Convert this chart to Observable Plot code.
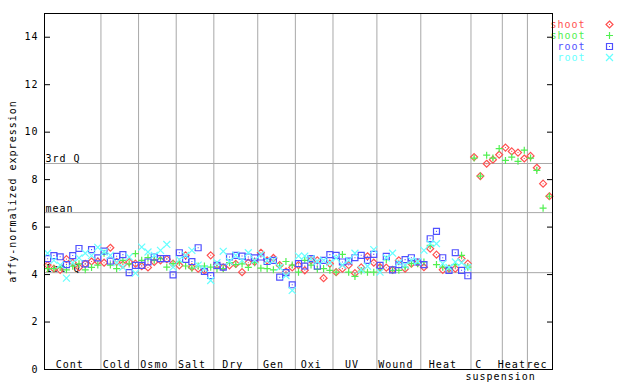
<!DOCTYPE html>
<html><head><meta charset="utf-8">
<script src="https://cdn.jsdelivr.net/npm/d3@7"></script>
<script src="https://cdn.jsdelivr.net/npm/@observablehq/plot@0.6"></script>
<style>
body{margin:0;background:#fff}
#chart{width:640px;height:384px}
svg text{letter-spacing:1px}
</style></head><body><div id="chart"></div>
<script>
const groups = ["Cont","Cold","Osmo","Salt","Dry","Gen","Oxi","UV","Wound","Heat","C","Heat","rec"];
const groupSizes = [9,6,6,6,7,6,6,7,7,8,5,4,4];
const yTicks = [0,2,4,6,8,10,12,14];
const yLabel = "affy-normalized expression";
const quartiles = [{label:"3rd Q", v:8.68},{label:"mean", v:6.61},{label:"1st Q", v:4.08}];

// shoot (red, diamonds)
const shootA = [
 4.4,4.25,4.2,4.65,4.5,4.3,4.45,4.55,4.55,
 4.5,5.13,4.53,4.42,4.53,4.46,
 4.35,4.3,4.53,4.6,4.65,4.46,
 4.39,4.81,4.31,4.25,4.18,4.81,
 4.4,4.3,4.39,4.45,4.1,4.5,4.53,
 4.92,4.6,4.7,4.4,4.13,4.3,
 4.4,4.18,4.6,4.6,3.85,4.46,
 4.1,4.25,4.4,4.06,4.3,4.77,4.5,
 4.31,4.29,4.2,4.6,4.25,4.46,4.5,
 4.31,5.09,4.84,4.2,4.25,4.25,4.67,4.46,
 8.95,8.15,8.67,8.84,9.05,
 9.35,9.19,9.14,8.89,
 9.0,8.5,7.83,7.3];
// shoot (green, plus)
const shootB = [
 4.25,4.25,4.3,4.2,4.35,4.45,4.2,4.3,4.4,
 4.9,4.4,4.25,4.6,4.45,4.88,
 4.6,4.71,4.6,4.67,4.31,4.46,
 4.53,4.36,4.27,4.36,4.36,4.31,
 4.25,4.25,4.5,4.42,4.45,4.3,4.5,
 4.27,4.25,4.2,4.36,4.55,4.4,
 4.1,4.6,4.4,4.22,4.25,4.18,
 4.1,4.85,4.1,3.92,4.15,4.1,4.1,
 4.25,4.63,4.18,4.18,4.31,4.46,4.46,
 4.53,5.23,4.42,4.31,4.25,4.42,4.81,4.31,
 8.91,8.15,9.03,8.91,9.31,
 8.81,8.95,8.77,9.24,
 8.91,8.39,6.8,7.3];
// root (blue, squares)
const rootA = [
 4.67,4.8,4.75,4.42,4.8,5.1,4.45,5.05,4.7,
 4.99,4.57,4.77,4.84,4.08,4.39,
 4.39,4.53,4.74,4.67,4.67,3.99,
 4.92,4.64,4.55,5.13,4.13,3.96,
 4.39,4.31,4.74,4.81,4.78,4.74,4.7,
 4.74,4.55,4.6,3.89,4.08,3.57,
 4.46,4.36,4.67,4.36,4.6,4.84,
 4.81,4.53,4.57,4.71,4.81,4.6,4.85,
 4.39,4.77,4.2,4.42,4.63,4.71,4.53,
 4.42,5.51,5.82,4.71,4.18,4.92,4.18,3.95,
 null,null,null,null,null,
 null,null,null,null,
 null,null,null,null];
// root (cyan, times)
const rootB = [
 4.9,4.6,4.4,3.85,4.5,4.7,4.9,4.8,5.15,
 4.95,4.81,4.5,4.31,4.74,4.06,
 5.16,4.95,4.81,5.02,5.27,4.31,
 4.63,4.81,5.02,4.4,4.25,3.75,
 4.5,4.98,4.55,4.81,4.6,4.92,4.6,
 4.85,4.6,4.6,4.3,3.96,3.33,
 4.78,4.78,4.67,4.55,4.6,4.5,
 4.7,4.4,4.6,4.9,4.2,4.35,5.05,
 4.1,4.7,4.9,4.5,4.39,4.6,4.55,
 5.02,5.3,5.3,4.46,4.3,4.53,4.5,4.31,
 null,null,null,null,null,
 null,null,null,null,
 null,null,null,null];

const series = [
 {label:"shoot", data:shootA, color:"#ff5050", symbol:"diamond2", r:3.15, dot:true},
 {label:"shoot", data:shootB, color:"#50f050", symbol:"plus", r:2.4, dot:false},
 {label:"root",  data:rootA,  color:"#5050ff", symbol:"square2", r:3.8, dot:true},
 {label:"root",  data:rootB,  color:"#66ffff", symbol:"times", r:3.25, dot:false}
];

const n = shootA.length;
let start = 0;
const groupInfo = groups.map((g,k)=>{
  const s = start; start += groupSizes[k];
  return {label:g, start:s, end:start, center: s + (groupSizes[k]-1)/2};
});
const boundaries = groupInfo.slice(0,-1).map(d=>d.end - 0.5);
const labelRows = groupInfo.map(d=>({label:d.label, center:d.center}));

const marks = [
  Plot.ruleX(boundaries, {stroke:"#a8a8a8", strokeWidth:1}),
  Plot.ruleY(quartiles, {y:"v", stroke:"#a8a8a8", strokeWidth:1}),
  Plot.text(quartiles, {y:"v", text:"label", frameAnchor:"left", textAnchor:"start", lineAnchor:"bottom", dx:1, dy:-1, fill:"black"}),
  Plot.text(labelRows.filter(d=>d.label!=="C"), {x:"center", text:"label", frameAnchor:"bottom", lineAnchor:"bottom", dx:-3, dy:-2, fill:"black"}),
  Plot.text(labelRows.filter(d=>d.label==="C"), {x:"center", text:"label", frameAnchor:"bottom", lineAnchor:"bottom", dx:-8, dy:-2, fill:"black"}),
  Plot.text(["suspension"], {x:()=>groupInfo[10].center, text:d=>d, frameAnchor:"bottom", lineAnchor:"top", dx:14, dy:3, fill:"black"}),
  Plot.text([yLabel], {text:d=>d, frameAnchor:"left", rotate:-90, textAnchor:"middle", lineAnchor:"middle", dx:-32, fill:"black"})
];
series.forEach(s=>{
  const rows = s.data.map((v,i)=>({i, v})).filter(d=>d.v!=null);
  marks.push(Plot.dot(rows, {x:"i", y:"v", symbol:s.symbol, r:s.r, stroke:s.color, strokeWidth:1.2}));
  if (s.dot) marks.push(Plot.dot(rows, {x:"i", y:"v", symbol:"square", r:0.6, fill:s.color}));
});
// legend in right margin
series.forEach((s,k)=>{
  marks.push(Plot.text([s.label], {text:d=>d, frameAnchor:"top-right", textAnchor:"end", lineAnchor:"middle", dx:33, dy:11+k*11, fill:s.color}));
  marks.push(Plot.dot([0], {frameAnchor:"top-right", dx:57, dy:11+k*11, symbol:s.symbol, r:s.r, stroke:s.color, strokeWidth:1.2}));
  if (s.dot) marks.push(Plot.dot([0], {frameAnchor:"top-right", dx:57, dy:11+k*11, symbol:"square", r:0.6, fill:s.color}));
});
marks.push(Plot.frame({stroke:"black"}));
marks.push(Plot.axisY(yTicks, {anchor:"left", tickSize:-6, tickPadding:12, label:null, fill:"black"}));
marks.push(Plot.axisY(yTicks, {anchor:"right", tickSize:-6, tickFormat:()=>"", label:null}));

const chart = Plot.plot({
  width:640, height:384,
  marginLeft:44, marginRight:88, marginTop:13, marginBottom:15,
  style:{fontFamily:"'DejaVu Sans Mono', monospace", fontSize:"10px", color:"black", background:"white"},
  x:{domain:[-0.5, n-0.5], axis:null},
  y:{domain:[0,15]},
  marks
});
document.getElementById("chart").appendChild(chart);
</script></body></html>
